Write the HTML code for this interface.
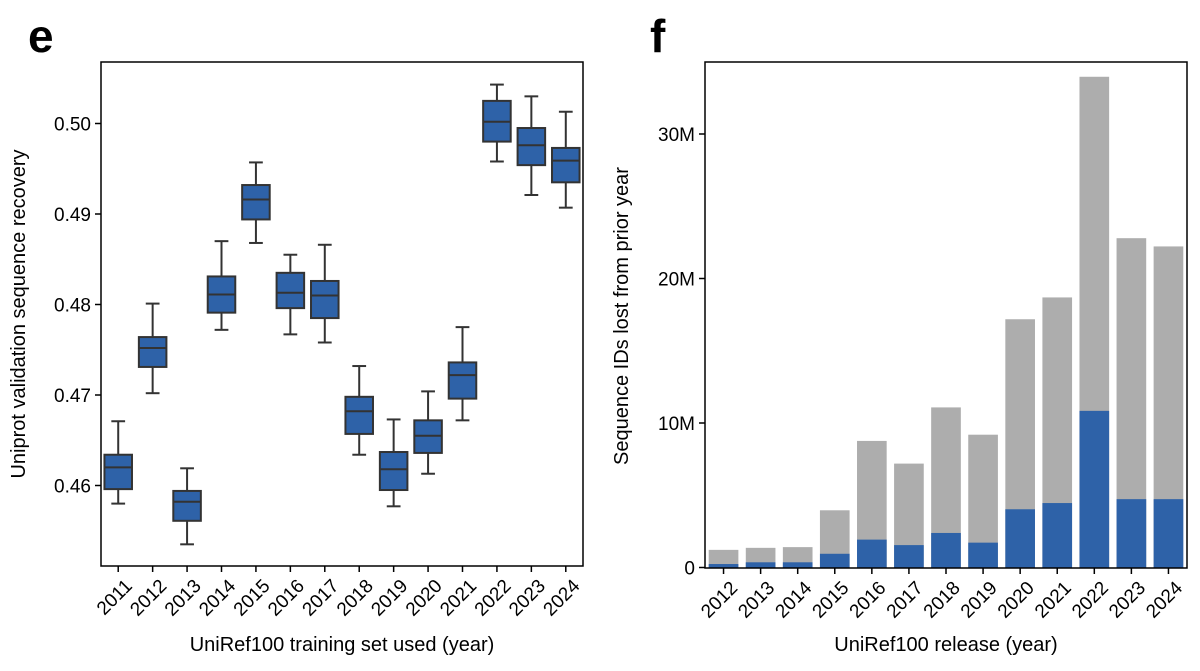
<!DOCTYPE html>
<html><head><meta charset="utf-8"><style>
body{margin:0;background:#fff;}
svg{display:block;font-family:"Liberation Sans",Arial,sans-serif;}
</style></head><body>
<svg id="c" width="1200" height="671" viewBox="0 0 1200 671">
<text x="28" y="52" font-size="46" font-weight="bold">e</text>
<text x="650" y="52" font-size="46" font-weight="bold">f</text>
<g id="left"></g>
<g id="right"></g>
</svg>
<script>
const boxYears=["2011","2012","2013","2014","2015","2016","2017","2018","2019","2020","2021","2022","2023","2024"];
const whiskerHigh=[0.4671,0.4801,0.4619,0.4870,0.4957,0.4855,0.4866,0.4732,0.4673,0.4704,0.4775,0.5043,0.5030,0.5013];
const q3=[0.4634,0.4764,0.4594,0.4831,0.4932,0.4835,0.4826,0.4698,0.4637,0.4672,0.4736,0.5025,0.4995,0.4973];
const medians=[0.4620,0.4752,0.4582,0.4811,0.4916,0.4813,0.4810,0.4682,0.4618,0.4655,0.4722,0.5002,0.4976,0.4959];
const q1=[0.4596,0.4731,0.4561,0.4791,0.4894,0.4796,0.4785,0.4657,0.4595,0.4636,0.4696,0.4980,0.4954,0.4935];
const whiskerLow=[0.4580,0.4702,0.4535,0.4772,0.4868,0.4767,0.4758,0.4634,0.4577,0.4613,0.4672,0.4958,0.4921,0.4907];
const leftTicks=[0.46,0.47,0.48,0.49,0.50];
const leftTickLabels=["0.46","0.47","0.48","0.49","0.50"];

const barYears=["2012","2013","2014","2015","2016","2017","2018","2019","2020","2021","2022","2023","2024"];
const totalLost=[1.22,1.36,1.41,3.96,8.76,7.19,11.08,9.19,17.18,18.69,33.96,22.79,22.22];
const blueLost=[0.24,0.36,0.36,0.95,1.93,1.55,2.39,1.72,4.03,4.46,10.84,4.73,4.73];
const rightTicks=[0,10,20,30];
const rightTickLabels=["0","10M","20M","30M"];

const NS="http://www.w3.org/2000/svg";
function mk(parent,tag,attrs,text){const e=document.createElementNS(NS,tag);for(const k in attrs)e.setAttribute(k,attrs[k]);if(text!==undefined)e.textContent=text;parent.appendChild(e);return e;}
const BLUE="#2e62a8",EDGE="#333";
const TF=19,TT=20;

// left panel
const L=document.getElementById('left');
const lx0=101,lx1=583,ly0=62,ly1=566;
const ly=v=>485.5-(v-0.46)*9050;
const lstep=(lx1-lx0)/boxYears.length;
const lcx=i=>lx0+lstep*(i+0.5);
boxYears.forEach((yr,i)=>{
  const cx=lcx(i),w=lstep*0.8;
  const g=mk(L,'g',{});
  
  
  mk(g,'line',{x1:cx,x2:cx,y1:ly(whiskerHigh[i]),y2:ly(q3[i]),stroke:EDGE,'stroke-width':2});
  mk(g,'line',{x1:cx,x2:cx,y1:ly(q1[i]),y2:ly(whiskerLow[i]),stroke:EDGE,'stroke-width':2});
  mk(g,'line',{x1:cx-w/4,x2:cx+w/4,y1:ly(whiskerHigh[i]),y2:ly(whiskerHigh[i]),stroke:EDGE,'stroke-width':2});
  mk(g,'line',{x1:cx-w/4,x2:cx+w/4,y1:ly(whiskerLow[i]),y2:ly(whiskerLow[i]),stroke:EDGE,'stroke-width':2});
  mk(g,'rect',{x:cx-w/2,y:ly(q3[i]),width:w,height:ly(q1[i])-ly(q3[i]),fill:BLUE,stroke:EDGE,'stroke-width':2});
  mk(g,'line',{x1:cx-w/2,x2:cx+w/2,y1:ly(medians[i]),y2:ly(medians[i]),stroke:EDGE,'stroke-width':2});
  mk(L,'line',{x1:cx,x2:cx,y1:ly1,y2:ly1+6,stroke:'#000','stroke-width':1.5});
  const t=mk(L,'text',{x:cx+6,y:ly1+12,'font-size':TF,'text-anchor':'end',transform:`rotate(-45 ${cx+6} ${ly1+12})`,'dominant-baseline':'hanging'},yr);
  
  
});
leftTicks.forEach((v,i)=>{
  const y=ly(v);
  mk(L,'line',{x1:lx0-6,x2:lx0,y1:y,y2:y,stroke:'#000','stroke-width':1.5});
  const t=mk(L,'text',{x:lx0-10,y:y+7,'font-size':TF,'text-anchor':'end'},leftTickLabels[i]);
  
  
});
mk(L,'rect',{x:lx0,y:ly0,width:lx1-lx0,height:ly1-ly0,fill:'none',stroke:'#000','stroke-width':1.5});
const lxt=mk(L,'text',{x:(lx0+lx1)/2,y:651,'font-size':TT,'text-anchor':'middle'},'UniRef100 training set used (year)');

const lyt=mk(L,'text',{x:0,y:0,'font-size':TT,'text-anchor':'middle',transform:'translate(25 314) rotate(-90)'},'Uniprot validation sequence recovery');


// right panel
const R=document.getElementById('right');
const rx0=705,rx1=1187,ry0=62,ry1=568;
const ry=v=>567.5-v*14.45;
const rstep=(rx1-rx0)/barYears.length;
const rcx=i=>rx0+rstep*(i+0.5);
barYears.forEach((yr,i)=>{
  const cx=rcx(i),w=rstep*0.8;
  const b1=mk(R,'rect',{x:cx-w/2,y:ry(totalLost[i]),width:w,height:ry(0)-ry(totalLost[i]),fill:'#adadad'});
  
  const b2=mk(R,'rect',{x:cx-w/2,y:ry(blueLost[i]),width:w,height:ry(0)-ry(blueLost[i]),fill:BLUE});
  
  mk(R,'line',{x1:cx,x2:cx,y1:ry1,y2:ry1+6,stroke:'#000','stroke-width':1.5});
  const t=mk(R,'text',{x:cx+6,y:ry1+12,'font-size':TF,'text-anchor':'end',transform:`rotate(-45 ${cx+6} ${ry1+12})`,'dominant-baseline':'hanging'},yr);
  
  
});
rightTicks.forEach((v,i)=>{
  const y=ry(v);
  mk(R,'line',{x1:rx0-6,x2:rx0,y1:y,y2:y,stroke:'#000','stroke-width':1.5});
  const t=mk(R,'text',{x:rx0-10,y:y+7,'font-size':TF,'text-anchor':'end'},rightTickLabels[i]);
  
  
});
mk(R,'rect',{x:rx0,y:ry0,width:rx1-rx0,height:ry1-ry0,fill:'none',stroke:'#000','stroke-width':1.5});
const rxt=mk(R,'text',{x:(rx0+rx1)/2,y:651,'font-size':TT,'text-anchor':'middle'},'UniRef100 release (year)');

const ryt=mk(R,'text',{x:0,y:0,'font-size':TT,'text-anchor':'middle',transform:'translate(628 316) rotate(-90)'},'Sequence IDs lost from prior year');

</script>
</body></html>
